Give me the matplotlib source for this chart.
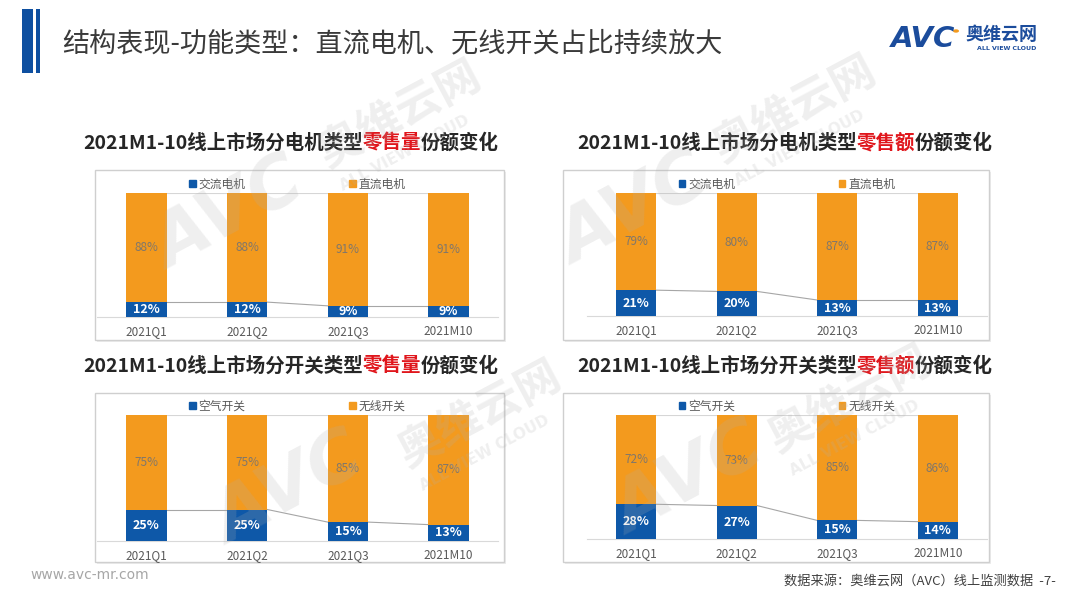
import matplotlib.pyplot as plt
from matplotlib.patches import Rectangle, Patch, Circle
from matplotlib.offsetbox import TextArea, HPacker, AnnotationBbox

plt.rcParams['font.family'] = ['Noto Sans CJK SC', 'DejaVu Sans']

W, H = 1080, 608

# ---- data ----
cats = ['2021Q1', '2021Q2', '2021Q3', '2021M10']
motor_vol_ac = [12, 12, 9, 9]
motor_vol_dc = [88, 88, 91, 91]
motor_amt_ac = [21, 20, 13, 13]
motor_amt_dc = [79, 80, 87, 87]
switch_vol_air = [25, 25, 15, 13]
switch_vol_wl = [75, 75, 85, 87]
switch_amt_air = [28, 27, 15, 14]
switch_amt_wl = [72, 73, 85, 86]

BLUE = '#0E58A8'
ORANGE = '#F39A1E'
GRAY_TXT = '#595959'


def fx(x):
    return x / W


def fy(y):
    return 1 - y / H


fig = plt.figure(figsize=(W / 100, H / 100), dpi=100)
fig.patch.set_facecolor('white')

# ---- header ----
fig.add_artist(Rectangle((fx(22), fy(73)), 11 / W, 64 / H, transform=fig.transFigure,
                         color='#0E4FA0', lw=0))
fig.add_artist(Rectangle((fx(36), fy(73)), 4 / W, 64 / H, transform=fig.transFigure,
                         color='#0E4FA0', lw=0))
fig.text(fx(62), fy(44), '结构表现-功能类型：直流电机、无线开关占比持续放大',
         fontsize=19.5, fontweight='medium', color='#3a3a3a', va='center', ha='left')

# logo
fig.text(fx(891), fy(39), 'AVC', fontsize=21, fontweight='bold', style='italic',
         color='#1B4C9C', family='DejaVu Sans', va='center', ha='left')
fig.add_artist(Circle((fx(956), fy(31)), 3 / W, transform=fig.transFigure,
                      color='#F39A1E', lw=0))
fig.text(fx(965), fy(35), '奥维云网', fontsize=13, fontweight='bold',
         color='#1B4C9C', va='center', ha='left')
fig.text(fx(1007), fy(48), 'ALL VIEW CLOUD', fontsize=4.5, fontweight='bold',
         color='#1B4C9C', family='DejaVu Sans', va='center', ha='center')

# ---- footer ----
fig.text(fx(30), fy(575), 'www.avc-mr.com', fontsize=10, color='#a6a6a6',
         family='DejaVu Sans', va='center', ha='left')
fig.text(fx(1056), fy(581), '数据来源：奥维云网（AVC）线上监测数据  -7-', fontsize=9.5,
         color='#404040', va='center', ha='right')


def panel_title(cx, cy, pre, red, post):
    props = dict(fontsize=14, fontweight='bold', color='#262626')
    rprops = dict(fontsize=14, fontweight='bold', color='#E0161C')
    box = HPacker(children=[TextArea(pre, textprops=props),
                            TextArea(red, textprops=rprops),
                            TextArea(post, textprops=props)],
                  pad=0, sep=0, align='baseline')
    ab = AnnotationBbox(box, (fx(cx), fy(cy)), xycoords='figure fraction',
                        frameon=False, box_alignment=(0.5, 0.5))
    fig.add_artist(ab)


def panel(box, area, lower, upper, names, title_parts, title_pos):
    bx0, by0, bx1, by1 = box
    # shadow + frame
    fig.add_artist(Rectangle((fx(bx0 + 2), fy(by1 + 2)), (bx1 - bx0) / W, (by1 - by0) / H,
                             transform=fig.transFigure, facecolor='#ececec',
                             edgecolor='none', zorder=0))
    fig.add_artist(Rectangle((fx(bx0), fy(by1)), (bx1 - bx0) / W, (by1 - by0) / H,
                             transform=fig.transFigure, facecolor='white',
                             edgecolor='#cfcfcf', lw=1, zorder=0.5))
    panel_title(title_pos[0], title_pos[1], *title_parts)

    ax0, ay0, ax1, ay1 = area
    ax = fig.add_axes([fx(ax0), fy(ay1), (ax1 - ax0) / W, (ay1 - ay0) / H])
    ax.set_zorder(2)
    ax.patch.set_alpha(0)
    x = list(range(len(cats)))
    lo = [v / 100 for v in lower]
    hi = [v / 100 for v in upper]
    width = 0.4
    ax.bar(x, lo, width, color=BLUE, zorder=3)
    ax.bar(x, hi, width, bottom=lo, color=ORANGE, zorder=3)
    # series lines
    for i in range(len(x) - 1):
        ax.plot([x[i] + width / 2, x[i + 1] - width / 2], [lo[i], lo[i + 1]],
                color='#a6a6a6', lw=0.8, zorder=2)
        ax.plot([x[i] + width / 2, x[i + 1] - width / 2],
                [lo[i] + hi[i], lo[i + 1] + hi[i + 1]],
                color='#d6d6d6', lw=0.8, zorder=2)
    for i in x:
        ax.text(x[i], lo[i] / 2, f'{lower[i]}%', ha='center', va='center',
                color='white', fontsize=9, fontweight='bold', zorder=4)
        ax.text(x[i], lo[i] + hi[i] / 2, f'{upper[i]}%', ha='center', va='center',
                color='#80776b', fontsize=8.5, zorder=4)
    ax.set_xlim(-0.49, 3.49)
    ax.set_ylim(0, 1)
    ax.set_xticks(x)
    ax.set_xticklabels(cats)
    ax.tick_params(axis='x', length=0, pad=6, labelsize=8.5, labelcolor=GRAY_TXT)
    ax.set_yticks([])
    for s in ['top', 'left', 'right']:
        ax.spines[s].set_visible(False)
    ax.spines['bottom'].set_color('#d9d9d9')
    handles = [Patch(color=BLUE, label=names[0]), Patch(color=ORANGE, label=names[1])]
    ax.legend(handles=handles, ncol=2, loc='lower center', bbox_to_anchor=(0.5, 0.98),
              frameon=False, fontsize=8.5, handlelength=0.55, handleheight=0.55,
              handletextpad=0.25, columnspacing=8.8, borderaxespad=0,
              labelcolor=GRAY_TXT)
    return ax


panel((95, 170, 504, 340), (97, 193, 498, 317), motor_vol_ac, motor_vol_dc,
      ['交流电机', '直流电机'], ('2021M1-10线上市场分电机类型', '零售量', '份额变化'), (291, 143))
panel((563, 170, 989, 340), (587, 193, 987, 316), motor_amt_ac, motor_amt_dc,
      ['交流电机', '直流电机'], ('2021M1-10线上市场分电机类型', '零售额', '份额变化'), (785, 143))
panel((95, 393, 504, 562), (97, 415, 498, 541), switch_vol_air, switch_vol_wl,
      ['空气开关', '无线开关'], ('2021M1-10线上市场分开关类型', '零售量', '份额变化'), (291, 366))
panel((563, 393, 989, 562), (587, 415, 987, 539), switch_amt_air, switch_amt_wl,
      ['空气开关', '无线开关'], ('2021M1-10线上市场分开关类型', '零售额', '份额变化'), (785, 366))

# ---- watermarks ----
wm = dict(color='#b0b0b0', alpha=0.2, rotation=28, ha='center', va='center', zorder=20)
for (ax_, ay_), (cx_, cy_) in [((230, 215), (400, 115)), ((635, 210), (795, 110)),
                               ((290, 490), (480, 415)), ((690, 480), (850, 400))]:
    fig.text(fx(ax_), fy(ay_), 'AVC', fontsize=52, fontweight='bold', style='italic',
             family='DejaVu Sans', **wm)
    fig.text(fx(cx_), fy(cy_), '奥维云网', fontsize=32, fontweight='bold', **wm)
    fig.text(fx(cx_ + 5), fy(cy_ + 38), 'ALL VIEW CLOUD', fontsize=11, fontweight='bold',
             family='DejaVu Sans', **wm)

fig.savefig('out.png', dpi=100, facecolor='white')
